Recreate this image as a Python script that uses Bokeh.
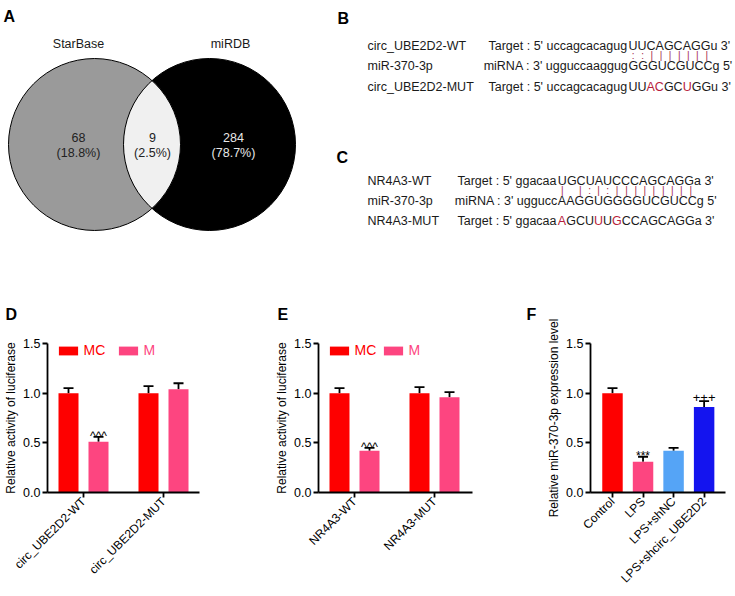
import math
import numpy as np
from bokeh.plotting import figure
from bokeh.layouts import row, column
from bokeh.models import (Range1d, FixedTicker, Legend, LegendItem,
                          Whisker, TeeHead, ColumnDataSource, NumeralTickFormatter)
from bokeh.core.properties import value
from bokeh.embed import file_html
from bokeh.resources import INLINE

FONT = "Liberation Sans"

# ---------------- data ----------------
venn_names = ["StarBase", "miRDB"]
venn_counts = [68, 9, 284]          # StarBase only, shared, miRDB only

b_names = ["circ_UBE2D2-WT", "miR-370-3p", "circ_UBE2D2-MUT"]
b_pre = ["Target : 5' uccagcacagug", "miRNA : 3' ugguccaaggug", "Target : 5' uccagcacagug"]
b_core = ["UUCAGCAGG", "GGGUCGUCC", "UUACGCUGG"]
b_suf = ["u 3'", "g 5'", "u 3'"]
b_pairs = "::|||||||"

c_names = ["NR4A3-WT", "miR-370-3p", "NR4A3-MUT"]
c_pre = ["Target : 5' ggacaa", "miRNA : 3' uggucc", "Target : 5' ggacaa"]
c_core = ["UGCUAUCCCAGCAGG", "AAGGUGGGGUCGUCC", "AGCUUUGCCAGCAGG"]
c_suf = ["a 3'", "g 5'", "a 3'"]
c_pairs = "| |:|:|||||||||"

luc_groups = ["MC", "M"]
d_cats = ["circ_UBE2D2-WT", "circ_UBE2D2-MUT"]
d_mc = [1.00, 1.00]
d_mc_err = [0.05, 0.07]
d_m = [0.51, 1.04]
d_m_err = [0.05, 0.06]
d_marks = ["^^^", ""]

e_cats = ["NR4A3-WT", "NR4A3-MUT"]
e_mc = [1.00, 1.00]
e_mc_err = [0.05, 0.06]
e_m = [0.42, 0.96]
e_m_err = [0.03, 0.05]
e_marks = ["^^^", ""]

f_cats = ["Control", "LPS", "LPS+shNC", "LPS+shcirc_UBE2D2"]
f_vals = [1.00, 0.31, 0.42, 0.86]
f_err = [0.05, 0.05, 0.03, 0.06]
f_marks = ["", "***", "", "+++"]

y_ticks = [0, 0.5, 1.0, 1.5]

RED = "#fe0000"
PINK = "#fd4580"
LBLUE = "#55a4f6"
BLUE = "#1414ef"
f_colors = [RED, PINK, LBLUE, BLUE]
TXT = "#1a1a1a"
MARK = "#a52a4c"
MUTC = "#b81d3c"

# Arial / Liberation Sans advance widths (per 1000 em)
AW = {' ': 278, ':': 278, "'": 191, '3': 556, '5': 556, 'T': 611, 'a': 556, 'r': 333,
      'g': 556, 'e': 556, 't': 278, 'u': 556, 'c': 500, 'i': 222, 'm': 833, 'R': 722,
      'N': 722, 'A': 667, 'G': 778, 'U': 722, 'C': 722}


def tw(s, fs):
    return sum(AW[ch] for ch in s) * fs / 1000.0


def bare(p):
    p.grid.visible = False
    p.outline_line_color = None
    p.background_fill_color = "white"
    p.border_fill_color = "white"


# ---------------- A: Venn ----------------
venn = figure(width=330, height=270, x_range=Range1d(0, 330), y_range=Range1d(270, 0),
              output_backend="svg", toolbar_location=None, title=None,
              x_axis_location=None, y_axis_location=None, min_border=0)
bare(venn)
cx1, cx2, cy, rr = 94, 209, 144, 86
venn.circle(x=[cx1], y=[cy], radius=rr, fill_color="#9a9a9a", line_color=None)
venn.circle(x=[cx2], y=[cy], radius=rr, fill_color="#000000", line_color=None)
dx = (cx2 - cx1) / 2.0
th = math.acos(dx / rr)
a1 = np.linspace(-th, th, 80)
a2 = np.linspace(math.pi - th, math.pi + th, 80)
lx = np.concatenate([cx1 + rr * np.cos(a1), cx2 + rr * np.cos(a2)])
ly = np.concatenate([cy + rr * np.sin(a1), cy + rr * np.sin(a2)])
venn.patch(x=lx, y=ly, fill_color="#f0f0f0", line_color=None)
venn.circle(x=[cx1, cx2], y=[cy, cy], radius=rr, fill_color=None, line_color="black", line_width=1)

tot = sum(venn_counts)
pcts = ["(%.1f%%)" % (100.0 * c / tot) for c in venn_counts]
venn.text(x=[78, 230], y=[43, 43], text=venn_names, text_font=value(FONT), text_font_size="12.5px",
          text_align="center", text_baseline="middle", text_color=TXT)
cnt_cols = ["#222222", "#222222", "#e8e8e8"]
venn.text(x=[78, 152, 233], y=[137] * 3, text=[str(c) for c in venn_counts], text_font=value(FONT),
          text_font_size="12.5px", text_align="center", text_baseline="middle", text_color=cnt_cols)
venn.text(x=[78, 152, 233], y=[152] * 3, text=pcts, text_font=value(FONT),
          text_font_size="12.5px", text_align="center", text_baseline="middle", text_color=cnt_cols)
venn.text(x=[3], y=[16], text=["A"], text_font=value(FONT), text_font_size="16px",
          text_font_style="bold", text_baseline="alphabetic", text_color="black")

# ---------------- B / C: sequences ----------------
seq = figure(width=405, height=270, x_range=Range1d(330, 735), y_range=Range1d(270, 0),
             output_backend="svg", toolbar_location=None, title=None,
             x_axis_location=None, y_axis_location=None, min_border=0)
bare(seq)
FS = 12.5
seq.text(x=[337, 336], y=[18, 157], text=["B", "C"], text_font=value(FONT), text_font_size="16px",
         text_font_style="bold", text_baseline="alphabetic", text_color="black")


def draw_seq(p, names, pre, core, suf, pairs, name_x, block_x, ys, mark_y):
    xs, yy, tt, cc = [], [], [], []
    for i in range(3):
        xs.append(name_x); yy.append(ys[i]); tt.append(names[i]); cc.append(TXT)
        xs.append(block_x - tw(pre[i], FS)); yy.append(ys[i]); tt.append(pre[i]); cc.append(TXT)
        for j, ch in enumerate(core[i]):
            xs.append(block_x + tw(core[i][:j], FS)); yy.append(ys[i]); tt.append(ch)
            cc.append(MUTC if (i == 2 and ch != core[0][j]) else TXT)
        xs.append(block_x + tw(core[i], FS)); yy.append(ys[i]); tt.append(suf[i]); cc.append(TXT)
    src = ColumnDataSource(dict(x=xs, y=yy, t=tt, c=cc))
    p.text(x="x", y="y", text="t", text_color="c", source=src, text_font=value(FONT),
           text_font_size="%.1fpx" % FS, text_align="left", text_baseline="middle")
    mx, mt = [], []
    for j, ch in enumerate(pairs):
        if ch == " ":
            continue
        c0 = tw(core[0][:j], FS) + tw(core[0][j], FS) / 2
        c1 = tw(core[1][:j], FS) + tw(core[1][j], FS) / 2
        mx.append(block_x + (c0 + c1) / 2); mt.append(ch)
    p.text(x=mx, y=[mark_y] * len(mx), text=mt, text_font=value(FONT), text_font_size="10px",
           text_align="center", text_baseline="middle", text_color=MARK)


draw_seq(seq, b_names, b_pre, b_core, b_suf, b_pairs, 367, 488 + tw(b_pre[0], FS), [45, 65, 86], 55)
draw_seq(seq, c_names, c_pre, c_core, c_suf, c_pairs, 367, 457 + tw(c_pre[0], FS), [180, 200, 220], 190)


# ---------------- bar panels ----------------
def style_axes(p, xfont):
    p.grid.visible = False
    p.outline_line_color = None
    for ax in p.axis:
        ax.axis_line_width = 1.8
        ax.axis_line_color = "black"
        ax.major_tick_line_width = 1.8
        ax.major_tick_line_color = "black"
        ax.major_tick_out = 5
        ax.major_tick_in = 0
        ax.minor_tick_line_color = None
        ax.major_label_text_font = FONT
        ax.major_label_text_color = "black"
        ax.major_label_standoff = 2
        ax.axis_label_text_font = FONT
        ax.axis_label_text_font_style = "normal"
        ax.axis_label_text_font_size = "12px"
        ax.axis_label_standoff = 2
        ax.axis_label_text_color = "black"
    p.yaxis.major_label_text_font_size = "12.5px"
    p.yaxis.ticker = FixedTicker(ticks=y_ticks)
    p.yaxis.formatter = NumeralTickFormatter(format="0.0")
    p.xaxis.major_label_text_font_size = xfont
    p.xaxis.major_label_orientation = math.pi / 4


def panel_letter(p, offset):
    t = p.title
    t.text_font = FONT
    t.text_font_size = "16px"
    t.text_font_style = "bold"
    t.text_color = "black"
    t.align = "left"
    t.vertical_align = "bottom"
    t.offset = offset
    t.standoff = 41


def add_marks(p, xs, tops, marks, off, fs):
    p.text(x=xs, y=tops, text=marks, text_font=value(FONT), text_font_size=fs,
           text_align="center", text_baseline="alphabetic", text_color="black", y_offset=off)


def luc_panel(width, bl, br, xr, cats, mc, mc_err, m, m_err, marks, ylabel, ltxt, letter_x, leg_x):
    p = figure(width=width, height=325, x_range=Range1d(*xr), y_range=Range1d(0, 1.5),
               output_backend="svg", toolbar_location=None, title=ltxt,
               min_border_left=bl, min_border_right=br, min_border_top=72, min_border_bottom=103)
    style_axes(p, "12px")
    panel_letter(p, letter_x)
    idx = list(range(len(cats)))
    p.xaxis.ticker = FixedTicker(ticks=idx)
    p.xaxis.major_label_overrides = {i: c for i, c in zip(idx, cats)}
    p.yaxis.axis_label = ylabel
    xmc = [i - 0.1875 for i in idx]
    xm = [i + 0.1875 for i in idx]
    r_mc = p.vbar(x=xmc, top=mc, width=0.25, fill_color=RED, line_color=None)
    r_m = p.vbar(x=xm, top=m, width=0.25, fill_color=PINK, line_color=None)
    for xx, vv, ee in ((xmc, mc, mc_err), (xm, m, m_err)):
        s = ColumnDataSource(dict(b=xx, lo=vv, up=[v + e for v, e in zip(vv, ee)]))
        p.add_layout(Whisker(source=s, base="b", lower="lo", upper="up", line_width=1.8,
                             line_color="black", lower_head=None,
                             upper_head=TeeHead(size=10, line_width=1.8, line_color="black")))
    add_marks(p, xm, [v + e for v, e in zip(m, m_err)], marks, -1, "12px")
    for lbl, r, col, lx in ((luc_groups[0], r_mc, RED, leg_x[0]), (luc_groups[1], r_m, PINK, leg_x[1])):
        lg = Legend(items=[LegendItem(label=lbl, renderers=[r])], location=(lx, 134),
                    orientation="horizontal", label_text_color=col, label_text_font=FONT,
                    label_text_font_size="14px", glyph_width=24, glyph_height=11, label_height=11,
                    label_standoff=4, padding=0, margin=0, spacing=0, border_line_color=None,
                    background_fill_alpha=0)
        p.add_layout(lg)
    return p


pd_ = luc_panel(255, 47, 56, (-0.45, 1.45), d_cats, d_mc, d_mc_err, d_m, d_m_err, d_marks,
                "Relative activity of luciferase", "D", -42, (8.6, 68.6))
pe_ = luc_panel(230, 63, 13, (-0.45, 1.475), e_cats, e_mc, e_mc_err, e_m, e_m_err, e_marks,
                "Relative activity of luciferase", "E", -41, (8.6, 62.6))

pf = figure(width=250, height=325, x_range=Range1d(-0.72, 3.70), y_range=Range1d(0, 1.5),
            output_backend="svg", toolbar_location=None, title="F",
            min_border_left=105, min_border_right=10, min_border_top=73, min_border_bottom=102)
style_axes(pf, "12px")
panel_letter(pf, -64)
fidx = list(range(len(f_cats)))
pf.xaxis.ticker = FixedTicker(ticks=fidx)
pf.xaxis.major_label_overrides = {i: c for i, c in zip(fidx, f_cats)}
pf.yaxis.axis_label = "Relative miR-370-3p expression level"
pf.vbar(x=fidx, top=f_vals, width=0.67, fill_color=f_colors, line_color=None)
fs_ = ColumnDataSource(dict(b=fidx, lo=f_vals, up=[v + e for v, e in zip(f_vals, f_err)]))
pf.add_layout(Whisker(source=fs_, base="b", lower="lo", upper="up", line_width=1.8,
                      line_color="black", lower_head=None,
                      upper_head=TeeHead(size=10, line_width=1.8, line_color="black")))
ftops = [v + e for v, e in zip(f_vals, f_err)]
add_marks(pf, [1], [ftops[1]], [f_marks[1]], -1, "12px")
add_marks(pf, [3], [ftops[3]], [f_marks[3]], -4, "13px")

layout = column(row(venn, seq), row(pd_, pe_, pf))
open("out.html", "w").write(file_html(layout, INLINE))
